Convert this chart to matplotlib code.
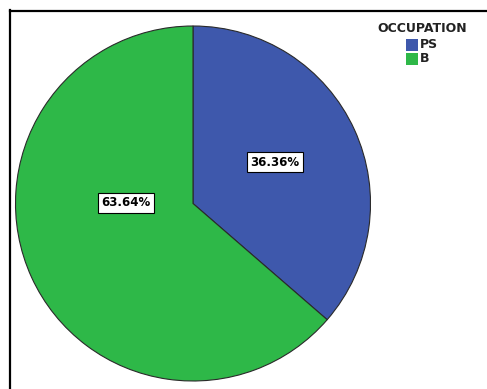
import matplotlib
matplotlib.use("Agg")
import matplotlib.pyplot as plt
from matplotlib.patches import Rectangle
from matplotlib.lines import Line2D

categories = ["PS", "B"]
percentages = [36.36, 63.64]
colors = ["#3E58AC", "#2EB848"]
legend_title = "OCCUPATION"

W, H = 487, 389
fig = plt.figure(figsize=(W / 100, H / 100), dpi=100)
fig.patch.set_facecolor("white")

# pie axes: centre (193, 203.5) px from top-left, radius 177.5 px
cx, cy, r = 193, 203.5, 177.5
ax = fig.add_axes([(cx - r) / W, (H - cy - r) / H, 2 * r / W, 2 * r / H])

wedges, texts, autotexts = ax.pie(
    percentages,
    colors=colors,
    startangle=90,
    counterclock=False,
    radius=1,
    autopct=lambda p: f"{p:.2f}%",
    pctdistance=0.5,
    wedgeprops=dict(edgecolor="#2a2a2a", linewidth=0.8),
    textprops=dict(fontsize=8.5, fontweight="bold", color="black"),
)
ax.set_xlim(-1, 1)
ax.set_ylim(-1, 1)
ax.set_aspect("equal")
ax.axis("off")

label_pos = [(0.463, 0.232), (-0.379, 0.005)]
for t, pos in zip(autotexts, label_pos):
    t.set_position(pos)
    t.set_ha("center")
    t.set_va("center")
    t.set_bbox(dict(boxstyle="square,pad=0.3", facecolor="white",
                    edgecolor="black", linewidth=0.8))

# outer frame (left and top edges visible)
px = lambda x: x / W
py = lambda y: 1 - y / H
fig.add_artist(Line2D([px(10), px(10)], [py(10), py(H + 5)], color="black",
                      linewidth=1.6, transform=fig.transFigure))
fig.add_artist(Line2D([px(10), px(W + 5)], [py(10.5), py(10.5)], color="black",
                      linewidth=1.6, transform=fig.transFigure))

# legend
fig.text(px(422), py(29), legend_title, fontsize=9, fontweight="bold",
         ha="center", va="center", color="#222222")
for i, (cat, col) in enumerate(zip(categories, colors)):
    top = 39 + i * 14
    fig.add_artist(Rectangle((px(406), py(top + 12)), 12 / W, 12 / H,
                             facecolor=col, edgecolor="none",
                             transform=fig.transFigure))
    fig.text(px(420), py(top + 6), cat, fontsize=9, fontweight="bold",
             ha="left", va="center", color="#222222")

fig.savefig("out.png", dpi=100)
